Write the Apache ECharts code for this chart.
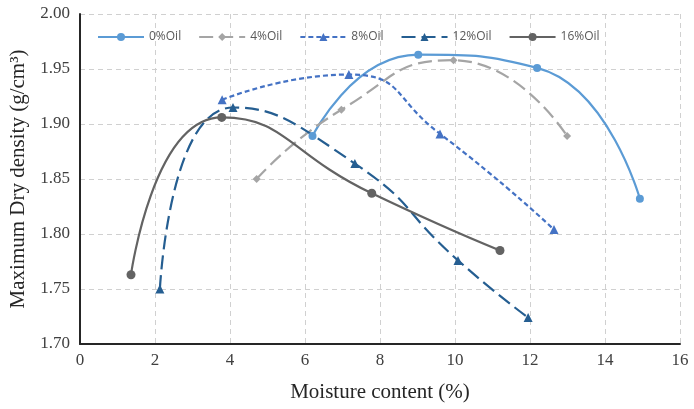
<!DOCTYPE html>
<html><head><meta charset="utf-8">
<script src="https://cdn.jsdelivr.net/npm/echarts@6/dist/echarts.min.js"></script>
<style>html,body{margin:0;padding:0;background:#fff}#c{width:694px;height:409px}</style>
</head><body><div id="c"></div>
<script>
const seriesNames = ['0%Oil','4%Oil','8%Oil','12%Oil','16%Oil'];
const oil0 = [[6.2,1.889],[9.02,1.963],[12.19,1.951],[14.93,1.832]];
const oil4 = [[4.71,1.850],[6.97,1.913],[9.96,1.958],[12.99,1.889]];
const oil8 = [[3.79,1.922],[7.17,1.945],[9.6,1.891],[12.64,1.804]];
const oil12 = [[2.13,1.750],[4.08,1.915],[7.33,1.864],[10.08,1.776],[11.95,1.724]];
const oil16 = [[1.36,1.763],[3.78,1.906],[7.78,1.837],[11.2,1.785]];
const xTicks = [0,2,4,6,8,10,12,14,16];
const yTicks = [1.70,1.75,1.80,1.85,1.90,1.95,2.00];

const chart = echarts.init(document.getElementById('c'));
function mk(name, data, color, symbol, size, dash){
  return {name, type:'line', data, smooth:0.55, symbol, symbolSize:size,
    lineStyle:{color, width:2.2, type:dash}, itemStyle:{color}, z: 3};
}
chart.setOption({
  animation:false,
  grid:{left:80, right:14, top:14, bottom:65},
  legend:{left:92, top:26, itemWidth:46, itemHeight:10, itemGap:17,
    textStyle:{fontFamily:'Open Sans', fontSize:12, color:'#595959'},
    data:seriesNames},
  xAxis:{type:'value', min:xTicks[0], max:xTicks[xTicks.length-1], interval:2,
    name:'Moisture content (%)', nameLocation:'middle', nameGap:38,
    nameTextStyle:{fontFamily:'Liberation Serif', fontSize:21, color:'#262626'},
    axisLine:{lineStyle:{color:'#262626', width:2}}, axisTick:{show:false},
    axisLabel:{fontFamily:'Liberation Serif', fontSize:17, color:'#404040', margin:8},
    splitLine:{show:true, lineStyle:{color:'#d0d0d0', type:[5,4], width:1}}},
  yAxis:{type:'value', min:yTicks[0], max:yTicks[yTicks.length-1], interval:0.05,
    name:'Maximum Dry density (g/cm³)', nameLocation:'middle', nameGap:49,
    nameTextStyle:{fontFamily:'Liberation Serif', fontSize:21, color:'#262626'},
    axisLine:{show:true, lineStyle:{color:'#262626', width:2}}, axisTick:{show:false},
    axisLabel:{fontFamily:'Liberation Serif', fontSize:17, color:'#404040', margin:10,
      formatter:v=>v.toFixed(2)},
    splitLine:{show:true, lineStyle:{color:'#d0d0d0', type:[5,4], width:1}}},
  series:[
    mk(seriesNames[0], oil0, '#5B9BD5', 'circle', 8, 'solid'),
    mk(seriesNames[1], oil4, '#A5A5A5', 'diamond', 8, [14,6]),
    mk(seriesNames[2], oil8, '#4472C4', 'triangle', 9, [5,3]),
    mk(seriesNames[3], oil12, '#255E91', 'triangle', 9, [14,6]),
    mk(seriesNames[4], oil16, '#636363', 'circle', 9, 'solid')
  ]
});
</script></body></html>
